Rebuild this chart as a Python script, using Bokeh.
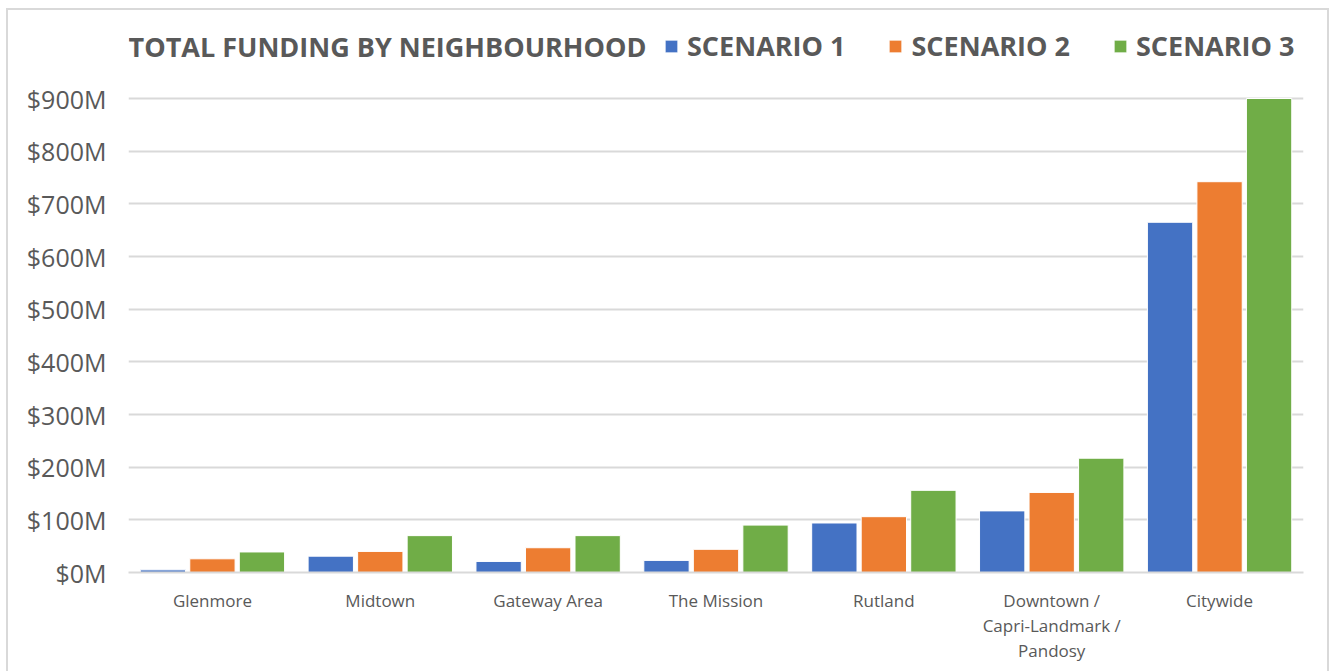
from bokeh.plotting import figure
from bokeh.models import (ColumnDataSource, FactorRange, Range1d, FixedTicker, Label,
                          Legend, LegendItem, CustomJSTickFormatter, InlineStyleSheet)
from bokeh.transform import dodge
from bokeh.embed import file_html
from bokeh.resources import INLINE

categories = ["Glenmore", "Midtown", "Gateway Area", "The Mission", "Rutland",
              "Downtown /\nCapri-Landmark /\nPandosy", "Citywide"]
scenario_1 = [5, 31, 21, 23, 94, 117, 665]
scenario_2 = [26, 40, 47, 44, 106, 152, 742]
scenario_3 = [39, 70, 70, 90, 156, 217, 900]
series_names = ["SCENARIO 1", "SCENARIO 2", "SCENARIO 3"]
series_colors = ["#4472C4", "#ED7D31", "#70AD47"]
y_ticks = [0, 100, 200, 300, 400, 500, 600, 700, 800, 900]

FONT = "Open Sans"
GRAY = "#595959"

# frame spans y=20..572 px; 900 sits at y=98 -> extend range so header fits inside frame
Y_MAX = 900 * (572 - 20) / (572 - 98)

src = ColumnDataSource(dict(cat=categories, s1=scenario_1, s2=scenario_2, s3=scenario_3))

border_css = InlineStyleSheet(css="""
:host { position: relative; }
:host::after {
  content: ""; position: absolute; left: 6px; top: 8px;
  width: 1323px; height: 663px; box-sizing: border-box;
  border: 2px solid #d9d9d9; border-bottom: none; pointer-events: none;
}
""")

p = figure(width=1331, height=671, x_range=FactorRange(*categories),
           y_range=Range1d(0, Y_MAX), output_backend="svg", toolbar_location=None,
           min_border_left=128, min_border_right=28, min_border_top=20,
           min_border_bottom=99, stylesheets=[border_css])
p.outline_line_color = None
p.background_fill_color = "white"
p.border_fill_color = "white"

renderers = []
for key, off, col in zip(["s1", "s2", "s3"], [-0.295, 0.0, 0.295], series_colors):
    r = p.vbar(x=dodge("cat", off, range=p.x_range), top=key, width=0.27,
               source=src, fill_color=col, line_color="white", line_width=1)
    renderers.append(r)

p.x_range.range_padding = 0
p.yaxis.ticker = FixedTicker(ticks=y_ticks)
p.yaxis.formatter = CustomJSTickFormatter(code="return '$' + tick + 'M';")
p.yaxis.axis_line_color = None
p.yaxis.major_tick_line_color = None
p.yaxis.minor_tick_line_color = None
p.yaxis.major_label_text_font = FONT
p.yaxis.major_label_text_font_size = "25px"
p.yaxis.major_label_text_color = GRAY
p.yaxis.major_label_standoff = 16

p.xaxis.axis_line_color = "#d9d9d9"
p.xaxis.axis_line_width = 2
p.xaxis.major_tick_line_color = None
p.xaxis.minor_tick_line_color = None
p.xaxis.major_label_text_font = FONT
p.xaxis.major_label_text_font_size = "17px"
p.xaxis.major_label_text_color = GRAY
p.xaxis.major_label_text_line_height = 1.1
p.xaxis.major_label_standoff = 10

p.xgrid.grid_line_color = None
p.ygrid.grid_line_color = "#d9d9d9"
p.ygrid.grid_line_width = 2

title = Label(x=0, y=526, x_units="screen", y_units="screen",
              text="TOTAL FUNDING BY NEIGHBOURHOOD", text_font=FONT,
              text_font_size="27px", text_font_style="bold", text_color=GRAY,
              text_baseline="middle")
p.add_layout(title)

legend = Legend(items=[LegendItem(label=n, renderers=[r]) for n, r in zip(series_names, renderers)],
                orientation="horizontal", location=(535, 508),
                label_text_font=FONT, label_text_font_size="27px",
                label_text_font_style="bold", label_text_color=GRAY,
                glyph_width=16, glyph_height=16, label_standoff=8, spacing=42,
                padding=0, margin=0, border_line_color=None, background_fill_alpha=0)
p.add_layout(legend)

open("out.html", "w").write(file_html(p, INLINE))
